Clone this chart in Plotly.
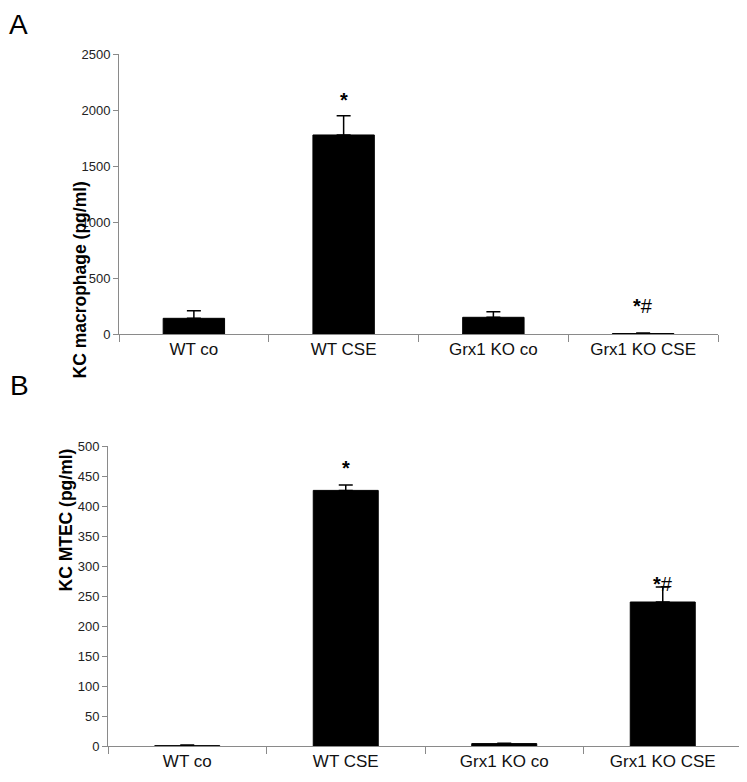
import plotly.graph_objects as go

categories = ["WT co", "WT CSE", "Grx1 KO co", "Grx1 KO CSE"]

# Panel A: KC macrophage (pg/ml)
a_values = [140, 1777, 149, 4]
a_errors = [68, 172, 50, 6]
a_sig = ["", "*", "", "*#"]
a_ticks = [0, 500, 1000, 1500, 2000, 2500]

# Panel B: KC MTEC (pg/ml)
b_values = [0.5, 426, 4, 240]
b_errors = [1, 9, 0.5, 25]
b_sig = ["", "*", "", "*#"]
b_ticks = [0, 50, 100, 150, 200, 250, 300, 350, 400, 450, 500]

# page body has an 8px default margin, so the figure is offset by it
OFF = 8
W, H = 747 - OFF, 782 - OFF
FONT = "Liberation Sans, Arial, sans-serif"
AXIS_COL = "#8a8a8a"


def px_x(p):
    return (p - OFF) / W


def px_y(p):
    return 1 - (p - OFF) / H


fig = go.Figure()


def add_bars(vals, errs, xa, ya):
    fig.add_trace(go.Bar(
        x=categories, y=vals, xaxis=xa, yaxis=ya,
        width=0.41, marker=dict(color="black", line=dict(color="black", width=1)),
        error_y=dict(type="data", symmetric=False, array=errs,
                     arrayminus=[0] * len(errs), color="black",
                     thickness=1.5, width=7),
        showlegend=False,
    ))


add_bars(a_values, a_errors, "x", "y")
add_bars(b_values, b_errors, "x2", "y2")

common_x = dict(
    type="category", showline=True, linecolor=AXIS_COL, linewidth=1,
    ticks="outside", tickson="boundaries", ticklen=7, tickcolor=AXIS_COL,
    showgrid=False, zeroline=False, automargin=False,
    tickfont=dict(family=FONT, size=17, color="#111"),
)
common_y = dict(
    showline=True, linecolor=AXIS_COL, linewidth=1,
    ticks="outside", ticklen=5, tickcolor=AXIS_COL,
    showgrid=False, zeroline=False, automargin=False,
    tickfont=dict(family=FONT, size=13, color="#222"),
)

fig.update_layout(
    width=W, height=H,
    margin=dict(l=0, r=0, t=0, b=0, autoexpand=False),
    paper_bgcolor="white", plot_bgcolor="white",
    bargap=0.59,
    xaxis=dict(domain=[px_x(119), px_x(718)], anchor="y", **common_x),
    yaxis=dict(domain=[px_y(334), px_y(54)], anchor="x", range=[0, 2500],
               tickvals=a_ticks, **common_y),
    xaxis2=dict(domain=[px_x(108), px_x(742)], anchor="y2", **common_x),
    yaxis2=dict(domain=[px_y(746), px_y(446)], anchor="x2", range=[0, 500],
                tickvals=b_ticks, **common_y),
)

annots = []
# significance markers
for vals, errs, sig, xr, yr, shifts in [
    (a_values, a_errors, a_sig, "x", "y", [0, 3, 0, 14]),
    (b_values, b_errors, b_sig, "x2", "y2", [0, 4, 0, -10]),
]:
    for c, v, e, s, sh in zip(categories, vals, errs, sig, shifts):
        if not s:
            continue
        txt = "<b>*</b>" if s == "*" else "<b>*</b>#"
        annots.append(dict(x=c, y=v + e, xref=xr, yref=yr, text=txt,
                           showarrow=False, yanchor="bottom", yshift=sh,
                           font=dict(family=FONT, size=20, color="black")))

# axis titles
annots.append(dict(x=px_x(67), y=px_y(180), xref="paper", yref="paper",
                   text="<b>KC macrophage (pg/ml)</b>", textangle=-90,
                   showarrow=False, font=dict(family=FONT, size=17.5, color="black")))
annots.append(dict(x=px_x(53), y=px_y(594), xref="paper", yref="paper",
                   text="<b>KC MTEC (pg/ml)</b>", textangle=-90,
                   showarrow=False, font=dict(family=FONT, size=17.5, color="black")))
# panel letters
annots.append(dict(x=px_x(OFF), y=px_y(OFF), xref="paper", yref="paper", text="A",
                   showarrow=False, xanchor="left", yanchor="top", borderpad=0,
                   font=dict(family=FONT, size=28, color="black")))
annots.append(dict(x=px_x(OFF), y=px_y(385), xref="paper", yref="paper", text="B",
                   showarrow=False, xanchor="left", yanchor="middle",
                   font=dict(family=FONT, size=28, color="black")))

fig.update_layout(annotations=annots)
fig.write_html("out.html")
